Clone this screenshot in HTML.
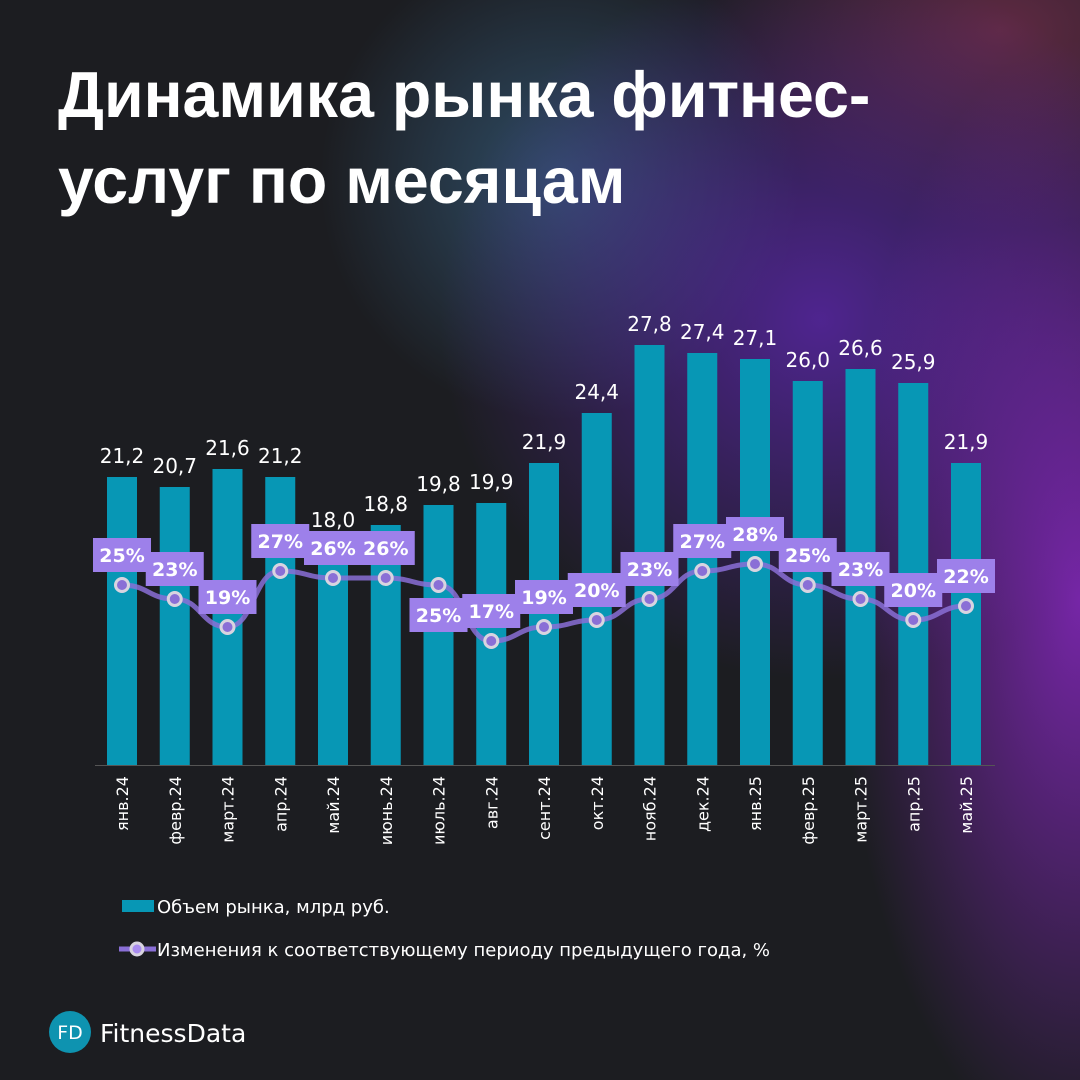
<!DOCTYPE html>
<html><head><meta charset="utf-8"><style>
body{margin:0;width:1080px;height:1080px;overflow:hidden;background:#1c1d21;font-family:"DejaVu Sans","Liberation Sans",sans-serif;}
#bg{position:absolute;left:0;top:0;width:1080px;height:1080px;
background:
radial-gradient(ellipse 240px 560px at 1080px 600px, rgba(140,40,200,0.8), rgba(140,40,200,0) 100%),
radial-gradient(ellipse 380px 360px at 820px 320px, rgba(100,40,190,0.7), rgba(100,40,190,0) 100%),
radial-gradient(ellipse 240px 240px at 560px 180px, rgba(60,110,150,0.6), rgba(60,110,150,0) 100%),
radial-gradient(ellipse 300px 200px at 1000px 30px, rgba(140,50,90,0.6), rgba(140,50,90,0) 100%);}
h1{position:absolute;left:58px;top:52px;margin:0;color:#fff;font-family:"Liberation Sans",sans-serif;font-size:64.5px;line-height:86px;font-weight:bold;}
svg{position:absolute;left:0;top:0}
</style></head><body>
<div id="bg"></div>
<h1>Динамика рынка фитнес-<br>услуг по месяцам</h1>
<svg id="chart" width="1080" height="1080"></svg>
<script>
const categories=["янв.24","февр.24","март.24","апр.24","май.24","июнь.24","июль.24","авг.24","сент.24","окт.24","нояб.24","дек.24","янв.25","февр.25","март.25","апр.25","май.25"];
const volumes=[21.2,20.7,21.6,21.2,18.0,18.8,19.8,19.9,21.9,24.4,27.8,27.4,27.1,26.0,26.6,25.9,21.9];
const changes=[25,23,19,27,26,26,25,17,19,20,23,27,28,25,23,20,22];
const NS="http://www.w3.org/2000/svg";
const svg=document.getElementById('chart');
const base=765, x0=122, step=52.75;
function xs(i){return x0+i*step;}
function yv(v){return base-20*(v-6.8);}
function yp(p){return 585-7*(p-25);}
function mk(t,a){const e=document.createElementNS(NS,t);for(const k in a)e.setAttribute(k,a[k]);svg.appendChild(e);return e;}
const ax=mk('line',{x1:95,x2:995,y1:base+0.5,y2:base+0.5,stroke:'#555',"stroke-width":1});


volumes.forEach((v,i)=>{
 const r=mk('rect',{x:xs(i)-15,y:yv(v),width:30,height:base-yv(v),fill:'#0797b5'});
 
 
 const t=mk('text',{x:xs(i),y:yv(v)-14,fill:'#fff',"font-size":20,"text-anchor":"middle"});
 t.textContent=v.toFixed(1).replace('.',',');
 
 
 const c=mk('text',{transform:`translate(${xs(i)+6},776) rotate(-90)`,fill:'#fff',"font-size":16,"text-anchor":"end"});
 c.textContent=categories[i];
 
 
});
let d='';
changes.forEach((p,i)=>{const x=xs(i),y=yp(p);
 if(i===0)d+=`M${x},${y}`;else{const px=xs(i-1),py=yp(changes[i-1]);d+=` C${px+step/2},${py} ${x-step/2},${y} ${x},${y}`;}});
const ln=mk('path',{d:d,fill:'none',stroke:'#8a6fd6',"stroke-width":5,opacity:0.85});


changes.forEach((p,i)=>{
 const c=mk('circle',{cx:xs(i),cy:yp(p),r:6.5,fill:'#8a6fd6',stroke:'#d8d4e0',"stroke-width":3});
 
 
});
changes.forEach((p,i)=>{
 const below=(i===6);
 const cy=below?yp(p)+30:yp(p)-30;
 const r=mk('rect',{x:xs(i)-29,y:cy-17,width:58,height:34,fill:'#9d80ea'});
 
 
 const t=mk('text',{x:xs(i),y:cy+7,fill:'#fff',"font-size":19,"font-weight":"bold","text-anchor":"middle"});
 t.textContent=p+'%';
 
 
});
</script>
<svg width="1080" height="1080" style="pointer-events:none">
<g>
<rect x="122" y="900" width="32" height="12" fill="#0797b5"/>
<text x="157" y="913" fill="#fff" font-size="18">Объем рынка, млрд руб.</text></g>
<g>
<line x1="119" x2="156" y1="949" y2="949" stroke="#8a6fd6" stroke-width="5"/>
<circle cx="137" cy="949" r="6" fill="#a98cf0" stroke="#d8d4e0" stroke-width="3"/>
<text x="157" y="956" fill="#fff" font-size="18">Изменения к соответствующему периоду предыдущего года, %</text></g>
<g>
<circle cx="70" cy="1032" r="21" fill="#0e93b0"/>
<text x="70" y="1039" fill="#fff" font-size="19" text-anchor="middle">FD</text>
<text x="100" y="1042" fill="#fff" font-size="25">FitnessData</text></g>
</svg>
</body></html>
